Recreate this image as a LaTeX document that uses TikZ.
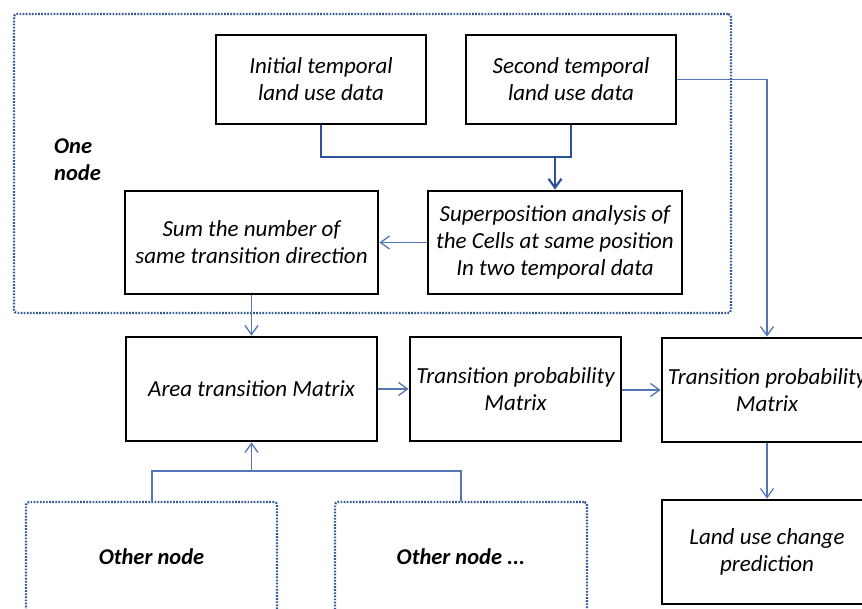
\documentclass[tikz,border=0pt]{standalone}
\usepackage{fontspec}
\setmainfont{Carlito}
\usetikzlibrary{arrows.meta}
\definecolor{linkblue}{RGB}{84,118,180}
\definecolor{darkblue}{RGB}{46,82,150}
\definecolor{dotblue}{RGB}{52,88,150}
\tikzset{
  x=1pt, y=-1pt,
  procbox/.style={draw=black, line width=2.8pt, fill=white, inner sep=0pt,
    align=center, font=\fontsize{23}{27}\selectfont\itshape},
  groupbox/.style={draw=dotblue, line width=2.2pt, rounded corners=3pt,
    dash pattern=on 1.7pt off 1.4pt, inner sep=0pt},
  link/.style={draw=linkblue, line width=1.3pt},
  boldlink/.style={draw=darkblue, line width=2.2pt},
  tip/.style={-{Straight Barb[length=9pt,width=13pt]}},
  grouplabel/.style={font=\fontsize{22.5}{27}\selectfont\bfseries\itshape, align=left, inner sep=0pt}
}
\begin{document}
\begin{tikzpicture}
\useasboundingbox (0,0) rectangle (862,609);
\clip (0,0) rectangle (862,609);
\fill[white] (0,0) rectangle (862,609);

% dotted group frames
\node[groupbox, minimum width=717pt, minimum height=299pt] (onegroup) at (372.5,163.5) {};
\node[grouplabel, anchor=west] (onelabel) at (54,160) {One\\node};
\node[groupbox, minimum width=251pt, minimum height=110pt] (other1) at (151.5,557) {};
\node[grouplabel] at (other1.center) {Other node};
\node[groupbox, minimum width=252pt, minimum height=110pt] (other2) at (461,557) {};
\node[grouplabel] at (other2.center) {Other node ...};

% process boxes
\node[procbox, minimum width=210pt, minimum height=89pt] (init) at (321,79.5) {Initial temporal\\land use data};
\node[procbox, minimum width=210pt, minimum height=89pt] (second) at (571,79.5) {Second temporal\\land use data};
\node[procbox, minimum width=254pt, minimum height=103pt] (super) at (555,242.5) {Superposition analysis of\\the Cells at same position\\In two temporal data};
\node[procbox, minimum width=253pt, minimum height=103pt] (sum) at (251.5,242.5) {Sum the number of\\same transition direction};
\node[procbox, minimum width=251pt, minimum height=104pt] (area) at (251.5,389) {Area transition Matrix};
\node[procbox, minimum width=211pt, minimum height=104pt] (tp1) at (515.5,389) {Transition probability\\Matrix};
\node[procbox, minimum width=210pt, minimum height=104pt] (tp2) at (767,390) {Transition probability\\Matrix};
\node[procbox, minimum width=210pt, minimum height=104pt] (pred) at (767,552) {Land use change\\prediction};

% junction points
\coordinate (jl) at (321,157);
\coordinate (jr) at (571,157);
\coordinate (jm) at (555,157);
\coordinate (bl) at (152,471);
\coordinate (br) at (461,471);
\coordinate (bm) at (251.5,471);
\coordinate (rc) at (767,79.5);

% connectors
\draw[boldlink] (init.south) -- (jl) -- (jr) -- (second.south);
\draw[boldlink, tip] (jm) -- (super.north);
\draw[link, tip] (super.west) -- (sum.east);
\draw[link, tip] (sum.south) -- (area.north);
\draw[link, tip] (area.east) -- (tp1.west);
\draw[link, tip] (tp1.east |- tp2.west) -- (tp2.west);
\draw[link, tip] (second.east) -- (rc) -- (tp2.north);
\draw[link, tip] (tp2.south) -- (pred.north);
\draw[link] (other1.north -| bl) -- (bl) -- (br) -- (other2.north -| br);
\draw[link, tip] (bm) -- (area.south);
\end{tikzpicture}
\end{document}
